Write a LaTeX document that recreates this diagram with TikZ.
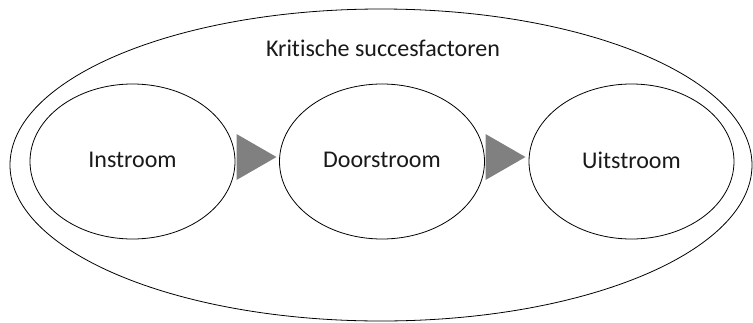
\documentclass[tikz,border=0pt]{standalone}
\usepackage{fontspec}
\setmainfont[Ligatures=NoCommon]{Carlito}
\usetikzlibrary{shapes.geometric}
\begin{document}
\begin{tikzpicture}[x=1pt,y=-1pt,
  label/.style={font=\fontsize{24}{28}\selectfont,text=black!90},
  stage/.style={draw=black,line width=0.8pt,ellipse,minimum width=205pt,minimum height=155pt,inner sep=0pt,label},
  outer/.style={draw=black,line width=0.8pt,ellipse,minimum width=742pt,minimum height=312pt,inner sep=0pt},
  flow/.style={fill=black!50,draw=none}]
\useasboundingbox (0,0) rectangle (753,322);
\node[outer] (all) at (381,165) {};
\node[label] (title) at (383,48) {Kritische succesfactoren};
\node[stage] (in) at (132.5,161.5) {\raisebox{3pt}{Instroom}};
\node[stage] (door) at (382,161.5) {\raisebox{3pt}{Doorstroom}};
\node[stage] (uit) at (631.5,161.5) {\raisebox{3pt}{Uitstroom}};
\coordinate (a1) at (236.5,134);
\coordinate (a2) at (236.5,180);
\coordinate (a3) at (276.5,157);
\coordinate (b1) at (485.5,134);
\coordinate (b2) at (485.5,180);
\coordinate (b3) at (525.5,157);
\fill[flow] (a1) -- (a3) -- (a2) -- cycle;
\fill[flow] (b1) -- (b3) -- (b2) -- cycle;
\end{tikzpicture}
\end{document}
